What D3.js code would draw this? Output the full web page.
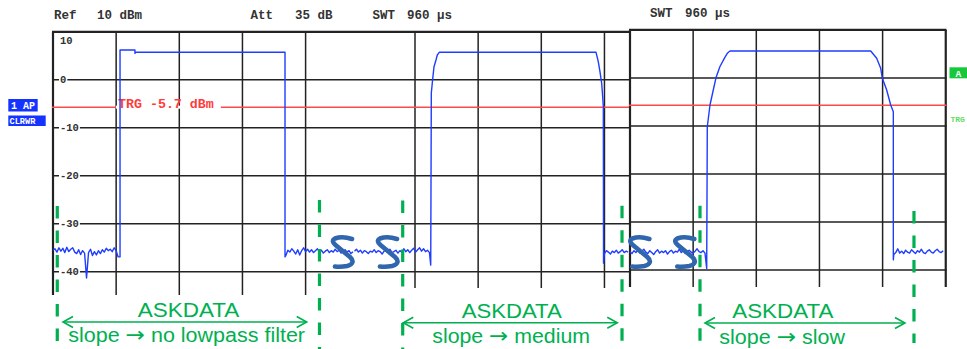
<!DOCTYPE html>
<html>
<head>
<meta charset="utf-8">
<script src="https://cdn.jsdelivr.net/npm/d3@7"></script>
<style>
  html, body { margin: 0; padding: 0; background: #fff; }
  svg { display: block; }
  .mono { font-family: "Liberation Mono", "DejaVu Sans Mono", monospace; }
  .sans { font-family: "Liberation Sans", Arial, sans-serif; }
  .arrowGlyph { font-family: "DejaVu Sans", sans-serif; }
</style>
</head>
<body>
<svg id="chart" width="967" height="349"></svg>
<script>
// ---------------- data ----------------
// Zero-span sweep: 960 µs across 10 divisions, reference level 10 dBm, 10 dB/div
const sweepTime = 960;
const yTicks = [10, 0, -10, -20, -30, -40];
const triggerLevel = -5.7;
const headerLabels = ["Ref", "10 dBm", "Att", "35 dB", "SWT", "960 µs"];
const headerLabelsRight = ["SWT", "960 µs"];
const noiseStep = 3; // µs between noise samples

// panel 1: no lowpass filter (hard on/off keying)
const noiseP1LeadStart = 0;
const noiseP1Lead = [-35.5, -35.2, -35.9, -35.0, -35.7, -35.1, -36.0, -34.9, -35.8, -35.3,
  -35.0, -35.9, -36.2, -35.4, -36.4, -35.6, -36.1, -41.3, -36.0, -35.3, -36.6, -35.8,
  -36.5, -35.6, -36.2, -35.4, -35.9, -35.1, -35.6, -35.3, -35.8, -35.0, -35.6, -36.9];
const edgeP1 = [[101.9, -36.9], [101.9, 6.2], [124.6, 6.2], [124.6, 5.5], [125.5, 5.75],
  [352.7, 5.75], [352.7, -36.9]];
const noiseP1TailStart = 354;
const noiseP1Tail = [-36.6, -35.5, -35.9, -35.2, -35.7, -36.3, -35.4, -36.5, -35.6, -35.0,
  -35.8, -35.3, -35.9, -35.4, -36.0, -35.6, -35.2, -35.9, -35.5, -36.1, -35.7, -35.4,
  -36.0, -35.6, -35.9, -35.3, -35.8, -35.5, -36.1, -35.7, -35.4, -35.9, -35.6, -36.2, -35.8];

// panel 2: medium slope
const noiseP2LeadStart = 388;
const noiseP2Lead = [-35.7, -35.3, -35.9, -35.5, -36.1, -35.6, -35.8, -36.2, -35.7, -35.9,
  -35.4, -36.0, -35.6, -35.8, -36.3, -35.7, -35.5, -35.9, -35.3, -36.0, -35.8, -35.5,
  -36.1, -35.6, -35.9, -35.2, -35.8, -35.4, -36.0, -35.5, -35.1, -35.9, -35.4, -35.0,
  -35.7, -35.2, -35.8, -35.5, -36.0];
const edgeP2 = [[503.9, -38.6], [504.8, -2.75], [506.9, 0.17], [508.9, 2.73], [511.9, 4.13],
  [513.9, 5.17], [516.9, 5.73], [755.2, 5.73], [758.6, 3.77], [761.2, 1.69], [763.8, -0.73],
  [765.3, -3.52], [766.3, -5.6], [766.6, -38.2]];
const noiseP2TailStart = 768;
const noiseP2Tail = [-36.2, -35.6, -35.9, -36.3, -35.7, -36.0, -35.5, -36.1, -35.8, -35.4,
  -36.0, -35.7, -35.9];

// panel 3: slow slope
const noiseP3LeadStart = 480;
const noiseP3Lead = [-36.2, -36.6, -36.0, -36.4, -35.9, -36.5, -36.1, -35.7, -36.3, -36.6,
  -36.0, -36.4, -36.8, -36.2, -35.8, -36.5, -36.1, -36.4, -36.0, -36.7, -36.2, -35.9,
  -36.5, -36.1, -36.3, -35.7, -36.4, -36.0, -36.6, -36.2, -35.9, -36.3, -36.5, -36.1,
  -35.6, -36.2, -36.4, -36.0, -36.5];
const edgeP3 = [[596.6, -39.7], [597.5, -10.17], [601.6, -5.65], [606.6, -2.52], [610.7, 0.02],
  [616.6, 2.33], [623.4, 4.08], [627.9, 5.13], [632.0, 5.6], [845.9, 5.6], [855.0, 4.08],
  [861.1, 2.0], [863.5, -0.02], [870.2, -2.52], [876.3, -5.65], [880.3, -7.04], [880.3, -37.9]];
const noiseP3TailStart = 881;
const noiseP3Tail = [-36.8, -36.4, -35.6, -36.5, -36.1, -36.6, -35.9, -36.3, -36.5, -35.8,
  -36.2, -36.6, -36.0, -36.3, -35.7, -36.4, -36.6, -36.1, -35.8, -36.3, -36.5, -36.0,
  -35.7, -36.2, -36.4, -36.0];

// annotated ASKDATA spans (times on each panel's own sweep)
const spanTitles = ["ASKDATA", "ASKDATA", "ASKDATA"];
const spanSlopeWords = ["slope", "slope", "slope"];
const spanSlopeTargets = ["no lowpass filter", "medium", "slow"];
const spanGuides = [[0, 6.5, 0, 405.1], [1, 461.3, 1, 794.7], [2, 586.4, 2, 911.7]];
const spanArrows = [[0, 15.2, 0, 385.7], [1, 462.2, 1, 787.5], [2, 594.0, 2, 898.0]];
// axis-break marks between the joined sweeps: [panel, time]
const breakMarks = [[0, 422.6], [1, 420.7], [1, 804.3], [2, 545.8]];

// ---------------- helpers ----------------
function series(leadStart, lead, edge, tailStart, tail) {
  return lead.map((v, i) => [leadStart + i * noiseStep, v])
    .concat(edge)
    .concat(tail.map((v, i) => [tailStart + i * noiseStep, v]));
}

const DIV_PX = 63.15;
const DB_PX = 4.8;
const panels = [
  { origin: 53, left: 52, right: 354, top: 31.8, bottom: 295,
    trace: series(noiseP1LeadStart, noiseP1Lead, edgeP1, noiseP1TailStart, noiseP1Tail) },
  { origin: 99.25, left: 354, right: 629, top: 31.8, bottom: 288,
    trace: series(noiseP2LeadStart, noiseP2Lead, edgeP2, noiseP2TailStart, noiseP2Tail) },
  { origin: 314.25, left: 629, right: 946.5, top: 29.9, bottom: 287,
    trace: series(noiseP3LeadStart, noiseP3Lead, edgeP3, noiseP3TailStart, noiseP3Tail) }
];
panels.forEach(p => {
  p.x = d3.scaleLinear().domain([0, sweepTime]).range([p.origin, p.origin + 10 * DIV_PX]);
  p.y = d3.scaleLinear().domain([10, -50]).range([p.top, p.top + 60 * DB_PX]);
});

const svg = d3.select("#chart");
const defs = svg.append("defs");

// ---------------- header ----------------
const headerX = [54, 97, 250.5, 295, 372.5, 407];
svg.append("g").attr("class", "mono")
  .selectAll("text").data(headerLabels).join("text")
  .attr("x", (d, i) => headerX[i]).attr("y", 19)
  .attr("font-size", 12.5).attr("font-weight", "bold").attr("fill", "#333")
  .text(d => d);
const headerRX = [650, 685];
svg.append("g").attr("class", "mono")
  .selectAll("text").data(headerLabelsRight).join("text")
  .attr("x", (d, i) => headerRX[i]).attr("y", 17.3)
  .attr("font-size", 12.5).attr("font-weight", "bold").attr("fill", "#333")
  .text(d => d);

// ---------------- grid ----------------
const gridG = svg.append("g");
panels.forEach((p, pi) => {
  // vertical divisions
  d3.range(0, 11).forEach(k => {
    const px = p.x(k * sweepTime / 10);
    if (px < p.left - 1 || px > p.right + 1) return;
    const border = (k === 0 || k === 10 || Math.abs(px - p.left) < 2);
    gridG.append("line")
      .attr("x1", px).attr("x2", px)
      .attr("y1", p.top).attr("y2", p.bottom)
      .attr("stroke", "#222").attr("stroke-width", border ? 2.2 : 1.5);
  });
  // horizontal level lines
  yTicks.forEach(v => {
    gridG.append("line")
      .attr("x1", p.left).attr("x2", p.right)
      .attr("y1", p.y(v)).attr("y2", p.y(v))
      .attr("stroke", "#222").attr("stroke-width", v === 10 ? 2.2 : 1.5);
  });
});

// level labels on the first panel
const p0 = panels[0];
const tickG = svg.append("g").attr("class", "mono");
yTicks.forEach(v => {
  const yy = v === 10 ? p0.y(v) + 9 : p0.y(v);
  const g = tickG.append("g");
  const t = g.append("text")
    .attr("x", 60).attr("y", yy + 3.6)
    .attr("font-size", 10.5).attr("font-weight", "bold").attr("fill", "#333")
    .text(v < 0 ? "-" + Math.abs(v) : String(v));
  const bb = t.node().getBBox();
  g.insert("rect", "text")
    .attr("x", bb.x - 1).attr("y", yy - 4).attr("width", bb.width + 2).attr("height", 8)
    .attr("fill", "#fff");
});

// ---------------- trigger line ----------------
const trigG = svg.append("g");
panels.forEach(p => {
  trigG.append("line")
    .attr("x1", p.left).attr("x2", p.right)
    .attr("y1", p.y(triggerLevel)).attr("y2", p.y(triggerLevel))
    .attr("stroke", "#ff4a4a").attr("stroke-width", 1.5);
});
const trgText = trigG.append("text").attr("class", "mono")
  .attr("x", 118).attr("y", p0.y(triggerLevel) + 0.5)
  .attr("font-size", 13.3).attr("font-weight", "bold").attr("fill", "#ff3b3b")
  .text("TRG -" + Math.abs(triggerLevel) + " dBm");
{
  const bb = trgText.node().getBBox();
  trigG.insert("rect", "text")
    .attr("x", bb.x - 2).attr("y", p0.y(triggerLevel) - 1.5)
    .attr("width", bb.width + 9).attr("height", 3).attr("fill", "#fff");
}

// ---------------- traces ----------------
const traceG = svg.append("g");
panels.forEach((p, pi) => {
  const id = "clip" + pi;
  defs.append("clipPath").attr("id", id).append("rect")
    .attr("x", p.left).attr("y", 0).attr("width", p.right - p.left).attr("height", 349);
  const line = d3.line().x(d => p.x(d[0])).y(d => p.y(d[1]));
  traceG.append("path")
    .attr("clip-path", `url(#${id})`)
    .attr("d", line(p.trace))
    .attr("fill", "none").attr("stroke", "#1f3dff").attr("stroke-width", 1.4)
    .attr("stroke-linejoin", "round");
});

// ---------------- side indicators ----------------
const sideG = svg.append("g").attr("class", "mono");
sideG.append("rect").attr("x", 8.3).attr("y", 99).attr("width", 29.4).attr("height", 12.5).attr("fill", "#1533ff");
sideG.append("text").attr("x", 11).attr("y", 109).attr("font-size", 10).attr("font-weight", "bold")
  .attr("fill", "#fff").text("1 AP");
sideG.append("rect").attr("x", 8.3).attr("y", 115.5).attr("width", 37.4).attr("height", 10.5).attr("fill", "#1533ff");
sideG.append("text").attr("x", 9.5).attr("y", 124.3).attr("font-size", 8.6).attr("font-weight", "bold")
  .attr("fill", "#fff").text("CLRWR");
sideG.append("rect").attr("x", 949.5).attr("y", 67.3).attr("width", 18).attr("height", 11).attr("fill", "#18c83c");
sideG.append("text").attr("x", 955.5).attr("y", 76.5).attr("font-size", 9.5).attr("font-weight", "bold")
  .attr("fill", "#fff").text("A");
sideG.append("text").attr("x", 950.5).attr("y", 122).attr("font-size", 8).attr("font-weight", "bold")
  .attr("fill", "#5fdc5f").text("TRG");

// ---------------- annotations ----------------
const green = "#00b050";
const annG = svg.append("g");
const guideTops = [[206, 200], [200.5, 205.7], [205.7, 211]];
const guideBottoms = [[349, 349], [349, 349], [349, 343]];
spanGuides.forEach((s, i) => {
  [[s[0], s[1]], [s[2], s[3]]].forEach((g, j) => {
    const px = panels[g[0]].x(g[1]);
    annG.append("line")
      .attr("x1", px).attr("x2", px)
      .attr("y1", guideTops[i][j]).attr("y2", guideBottoms[i][j])
      .attr("stroke", green).attr("stroke-width", 3.2)
      .attr("stroke-dasharray", "12.5 12");
  });
});

const arrowY = [322, 322.7, 323];
spanArrows.forEach((a, i) => {
  const xa = panels[a[0]].x(a[1]);
  const xb = panels[a[2]].x(a[3]);
  const y = arrowY[i];
  annG.append("line").attr("x1", xa).attr("x2", xb).attr("y1", y).attr("y2", y)
    .attr("stroke", green).attr("stroke-width", 1.6);
  annG.append("path")
    .attr("d", `M${xa + 10},${y - 5.5} L${xa},${y} L${xa + 10},${y + 5.5}` +
               `M${xb - 10},${y - 5.5} L${xb},${y} L${xb - 10},${y + 5.5}`)
    .attr("fill", "none").attr("stroke", green).attr("stroke-width", 1.6);
});

// label text blocks: left edge and overall width of each line
const titleLeft = [137.7, 461.7, 732.3];
const titleWidth = [101.6, 100, 101];
const titleBase = [316.7, 318.3, 318];
const slopeLeft = [68.3, 432.3, 719.3];
const slopeWidth = [236.7, 157.7, 125.7];
const slopeBase = [341.5, 343, 343.5];
spanTitles.forEach((t, i) => {
  annG.append("text").attr("class", "sans")
    .attr("x", titleLeft[i]).attr("y", titleBase[i])
    .attr("font-size", 19.5).attr("fill", green)
    .attr("textLength", titleWidth[i]).attr("lengthAdjust", "spacingAndGlyphs")
    .text(t);
  const s = annG.append("text").attr("class", "sans")
    .attr("x", slopeLeft[i]).attr("y", slopeBase[i])
    .attr("font-size", 19.5).attr("fill", green)
    .attr("textLength", slopeWidth[i]).attr("lengthAdjust", "spacingAndGlyphs");
  s.append("tspan").text(spanSlopeWords[i] + " ");
  s.append("tspan").attr("class", "arrowGlyph").attr("font-size", 21).text("\u2192");
  s.append("tspan").text(" " + spanSlopeTargets[i]);
});

// axis-break marks
const breakG = svg.append("g");
breakMarks.forEach(b => {
  const p = panels[b[0]];
  const bx = p.x(b[1]);
  const by = 236.5;
  breakG.append("path")
    .attr("transform", `translate(${bx},${by})`)
    .attr("d", "M21,2.5 C15,0.5 8,0.5 4,2 C1,3.5 1.5,6 4.5,8.5 L19,20.5 C23,24 22.5,28 16,29.5 C12,30.3 8,30.5 4,30")
    .attr("fill", "none").attr("stroke", "#2f66ad").attr("stroke-width", 4.6)
    .attr("stroke-linecap", "round").attr("stroke-linejoin", "round");
});
</script>
</body>
</html>
